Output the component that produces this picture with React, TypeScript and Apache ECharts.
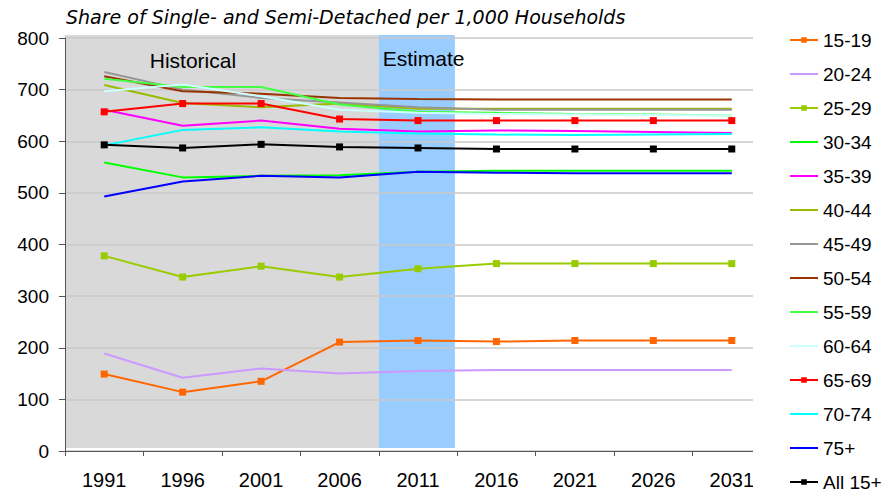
import React, { useEffect, useRef } from "react";
import * as echarts from "echarts";

const years = ["1991", "1996", "2001", "2006", "2011", "2016", "2021", "2026", "2031"];

const s15_19 = [149, 114, 135, 211, 214, 212, 214, 214, 214];
const s20_24 = [189, 142, 160, 150, 155, 157, 157, 157, 157];
const s25_29 = [378, 337, 358, 337, 353, 363, 363, 363, 363];
const s30_34 = [559, 530, 533, 534, 541, 543, 543, 543, 543];
const s35_39 = [661, 630, 640, 624, 619, 621, 620, 618, 616];
const s40_44 = [709, 674, 666, 673, 663, 663, 663, 663, 663];
const s45_49 = [734, 700, 684, 675, 666, 661, 661, 661, 661];
const s50_54 = [726, 697, 692, 684, 682, 681, 681, 681, 681];
const s55_59 = [721, 705, 705, 671, 657, 655, 653, 652, 650];
const s60_64 = [697, 710, 687, 661, 655, 653, 652, 651, 650];
const s65_69 = [657, 673, 673, 643, 640, 640, 640, 640, 640];
const s70_74 = [592, 622, 627, 619, 615, 613, 612, 613, 614];
const s75p = [493, 522, 533, 530, 541, 539, 538, 538, 538];
const sAll = [593, 587, 594, 589, 587, 585, 585, 585, 585];

const seriesNames = ["15-19", "20-24", "25-29", "30-34", "35-39", "40-44", "45-49", "50-54", "55-59", "60-64", "65-69", "70-74", "75+", "All 15+"];
const seriesValues = [s15_19, s20_24, s25_29, s30_34, s35_39, s40_44, s45_49, s50_54, s55_59, s60_64, s65_69, s70_74, s75p, sAll];
const seriesColors = ["#ff6600", "#cc99ff", "#99cc00", "#00ff00", "#ff00ff", "#99bb00", "#969696", "#993300", "#44ff44", "#ccffff", "#ff0000", "#00ffff", "#0000ff", "#000000"];
const seriesMarked = [true, false, true, false, false, false, false, false, false, false, true, false, false, true];

// shaded periods in category units along the x axis (0 = left edge of 1991)
const shadeNames = ["Historical", "Estimate"];
const shadeFrom = [0, 4.0];
const shadeTo = [4.0, 4.97];
const shadeLow = [6, 6];
const shadeHigh = [806, 806];
const shadeLabelAt = [1.08, 4.05];
const shadeColors = ["#d9d9d9", "#99ccff"];

const yTicks = { min: 0, max: 800, interval: 100 };

const FONT = '"Liberation Sans", Arial, Helvetica, sans-serif';

export default function App() {
  const ref = useRef<HTMLDivElement>(null);
  useEffect(() => {
    document.body.style.margin = "0";
    if (!ref.current) return;
    const chart = echarts.init(ref.current, null, { renderer: "svg" });

    const lineSeries = seriesNames.map((name, i) => ({
      name,
      type: "line",
      data: seriesValues[i],
      xAxisIndex: 0,
      yAxisIndex: 0,
      z: 3,
      symbol: "rect",
      showSymbol: seriesMarked[i],
      symbolSize: 7,
      lineStyle: { width: 2, color: seriesColors[i] },
      itemStyle: { color: seriesColors[i] },
      emphasis: { disabled: true },
    }));

    const shadeData = shadeNames.map((n, i) => [shadeFrom[i], shadeTo[i], shadeLow[i], shadeHigh[i], shadeLabelAt[i]]);

    chart.setOption({
      animation: false,
      title: {
        text: "Share of Single- and Semi-Detached per 1,000 Households",
        left: 66,
        top: 7,
        padding: 0,
        textStyle: { fontFamily: '"DejaVu Sans", sans-serif', fontSize: 19, fontStyle: "italic", fontWeight: "normal", color: "#000" },
      },
      legend: {
        orient: "vertical",
        left: 789,
        top: 30,
        z: 200,
        itemWidth: 28,
        itemHeight: 7,
        itemGap: 14,
        padding: 0,
        lineStyle: { width: 2 },
        data: seriesNames.map((n, i) =>
          seriesMarked[i] ? { name: n } : { name: n, itemStyle: { opacity: 0 } }
        ),
        textStyle: { fontFamily: FONT, fontSize: 19, color: "#000", lineHeight: 20 },
      },
      grid: { left: 65, right: 114, top: 38, bottom: 42, containLabel: false },
      xAxis: [
        {
          type: "category",
          data: years,
          boundaryGap: true,
          z: 1,
          axisLine: { show: true, lineStyle: { color: "#555", width: 1 } },
          axisTick: { show: true, length: 5, interval: 0, alignWithLabel: false, lineStyle: { color: "#555" } },
          axisLabel: { interval: 0, margin: 19, fontFamily: FONT, fontSize: 20, color: "#000" },
          splitLine: { show: false },
        },
        { type: "value", min: 0, max: 9, show: false },
      ],
      yAxis: {
        type: "value",
        min: yTicks.min,
        max: yTicks.max,
        interval: yTicks.interval,
        z: 1,
        axisLine: { show: true, lineStyle: { color: "#555", width: 1 } },
        axisTick: { show: true, length: 6, lineStyle: { color: "#555" } },
        axisLabel: { margin: 16, fontFamily: FONT, fontSize: 19, color: "#000" },
        splitLine: { show: true, lineStyle: { color: "#c8c8c8", width: 1.5 } },
      },
      graphic: [
        {
          type: "rect",
          z: 100,
          shape: { x: 753, y: 0, width: 132, height: 493 },
          style: { fill: "#ffffff" },
        },
      ],
      series: [
        {
          type: "custom",
          xAxisIndex: 1,
          yAxisIndex: 0,
          z: 0,
          clip: false,
          silent: true,
          data: shadeData,
          renderItem: (params: any, api: any) => {
            const i = params.dataIndex;
            const p0 = api.coord([api.value(0), api.value(2)]);
            const p1 = api.coord([api.value(1), api.value(3)]);
            const lx = api.coord([api.value(4), api.value(3)]);
            return {
              type: "group",
              children: [
                {
                  type: "rect",
                  shape: { x: p0[0], y: p1[1], width: p1[0] - p0[0], height: p0[1] - p1[1] },
                  style: { fill: shadeColors[i] },
                },
                {
                  type: "text",
                  x: lx[0],
                  y: p1[1] + (i === 0 ? 15 : 13),
                  style: {
                    text: shadeNames[i],
                    fill: "#000",
                    fontFamily: FONT,
                    fontSize: 21,
                    verticalAlign: "top",
                    align: "left",
                  },
                },
              ],
            };
          },
        },
        ...lineSeries,
      ],
    });
    return () => chart.dispose();
  }, []);
  return <div ref={ref} style={{ width: 885, height: 493 }} />;
}
